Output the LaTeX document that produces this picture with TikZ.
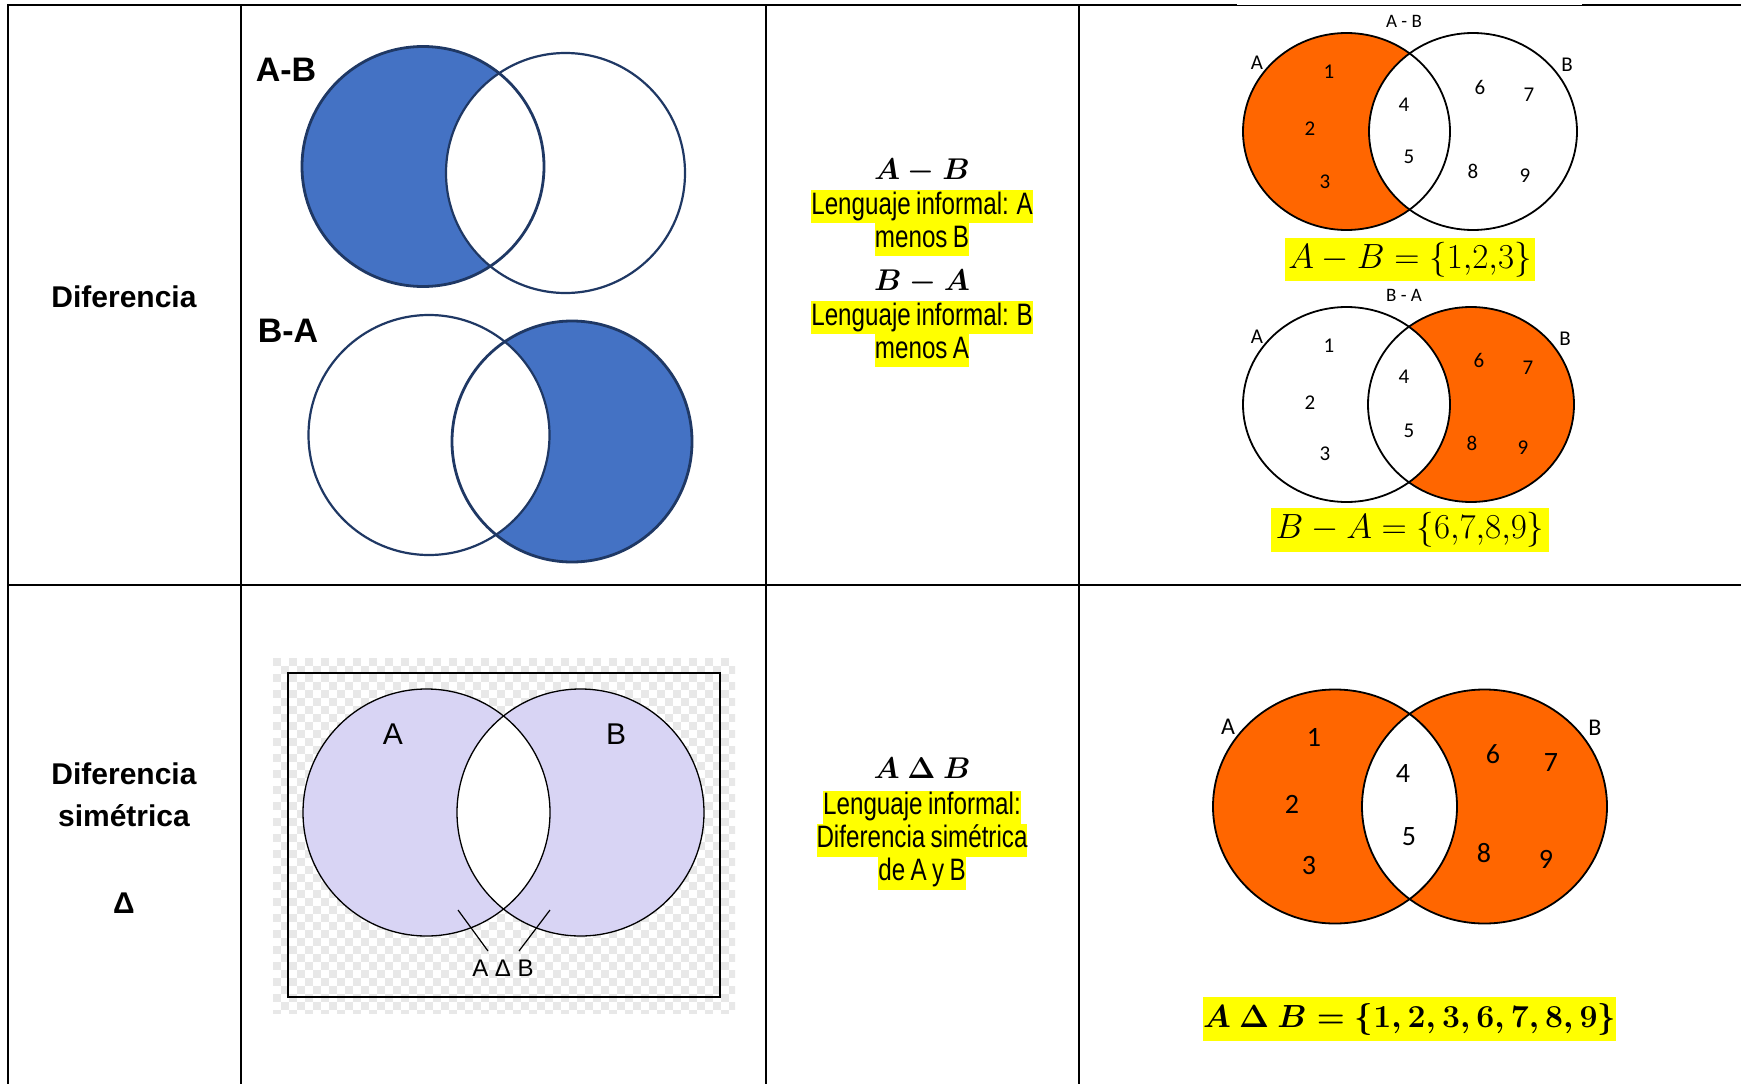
\RequirePackage{fix-cm}
\documentclass[tikz,border=0pt]{standalone}
\usepackage[no-math]{fontspec}
\setmainfont{Liberation Sans}
\newfontfamily\narrowf[FakeStretch=0.78,WordSpace=0.8]{Liberation Sans}
\newfontfamily\calib{Carlito}
\definecolor{blueF}{HTML}{4472C4}
\definecolor{navyL}{HTML}{1F3864}
\definecolor{orangeF}{HTML}{FF6600}
\definecolor{lavF}{HTML}{D8D4F4}
\definecolor{hiY}{HTML}{FFFF00}
\definecolor{chk}{HTML}{E8E8E8}
\begin{document}
\begin{tikzpicture}[x=1pt,y=-1pt,
  tabline/.style={line width=2pt,black},
  rowlab/.style={font=\fontsize{30}{36}\selectfont\bfseries,anchor=base,inner sep=0pt},
  venlab/.style={font=\fontsize{34}{40}\selectfont\bfseries,anchor=base,inner sep=0pt},
  mathlab/.style={font=\fontsize{30}{36}\selectfont\boldmath,anchor=base,inner sep=0pt},
  hiline/.style={font=\fontsize{31}{33}\selectfont\narrowf,fill=hiY,anchor=base,inner xsep=0pt,inner ysep=0pt,text height=24pt,text depth=9pt},
  navyE/.style={draw=navyL,line width=2.2pt},
  orE/.style={draw=black,line width=1.8pt},
  dsmall/.style={font=\fontsize{21}{24}\selectfont\calib,inner sep=0pt},
  dbig/.style={font=\fontsize{28}{32}\selectfont\calib,inner sep=0pt},
  setbox/.style={fill=hiY,inner sep=0pt,font=\fontsize{35}{40}\selectfont},
]
\useasboundingbox (0,0) rectangle (1741,1084);
\fill[white] (0,0) rectangle (1741,1084);

% ---------- column 2, top: A-B ----------
\fill[blueF] (423,166.5) ellipse[x radius=121pt,y radius=120pt];
\fill[white] (565.5,173) ellipse[x radius=119.5pt,y radius=120pt];
\draw[navyE,line width=2.8pt] (423,166.5) ellipse[x radius=121pt,y radius=120pt];
\draw[navyE] (565.5,173) ellipse[x radius=119.5pt,y radius=120pt];
\node[venlab] (labAB) at (286,81) {A-B};

% ---------- column 2, middle: B-A ----------
\fill[blueF] (572,441.5) ellipse[x radius=120pt,y radius=120.5pt];
\fill[white] (429,435) ellipse[x radius=120.5pt,y radius=120pt];
\draw[navyE,line width=2.8pt] (572,441.5) ellipse[x radius=120pt,y radius=120.5pt];
\draw[navyE] (429,435) ellipse[x radius=120.5pt,y radius=120pt];
\node[venlab] (labBA) at (288,342) {B-A};

% ---------- column 2, bottom: symmetric difference ----------
\begin{scope}
  \clip (273,658) rectangle (735,1013);
  \foreach \j in {0,2,...,44} \foreach \i in {0,2,...,58}
    \fill[chk] (273+8*\i,658+8*\j) rectangle ++(8,8);
  \foreach \j in {1,3,...,45} \foreach \i in {1,3,...,57}
    \fill[chk] (273+8*\i,658+8*\j) rectangle ++(8,8);
\end{scope}
\draw[black,line width=1.5pt] (288,673) rectangle (720,997);
\fill[lavF] (426.5,812.5) circle[radius=123.5pt];
\fill[lavF] (580.5,812.5) circle[radius=123.5pt];
\begin{scope}
  \clip (426.5,812.5) circle[radius=123.5pt];
  \fill[white] (580.5,812.5) circle[radius=123.5pt];
\end{scope}
\draw[black,line width=1.3pt] (426.5,812.5) circle[radius=123.5pt];
\draw[black,line width=1.3pt] (580.5,812.5) circle[radius=123.5pt];
\node[font=\fontsize{30}{34}\selectfont,inner sep=0pt] (sdA) at (393,734) {A};
\node[font=\fontsize{30}{34}\selectfont,inner sep=0pt] (sdB) at (616,734) {B};
\node[font=\fontsize{24}{28}\selectfont,inner sep=0pt] (sdlab) at (503,968) {A Δ B};
\coordinate (sdp1) at (458,910);
\coordinate (sdq1) at (488,951);
\coordinate (sdp2) at (550,910);
\coordinate (sdq2) at (519,951);
\draw[black,line width=1.2pt] (sdp1) -- (sdq1);
\draw[black,line width=1.2pt] (sdp2) -- (sdq2);

% ---------- column 4, top: A-B ----------
\fill[orangeF] (1346.5,131.5) ellipse[x radius=103.5pt,y radius=98.5pt];
\fill[white] (1473,131.5) ellipse[x radius=104pt,y radius=98.5pt];
\draw[orE] (1346.5,131.5) ellipse[x radius=103.5pt,y radius=98.5pt];
\draw[orE] (1473,131.5) ellipse[x radius=104pt,y radius=98.5pt];
\node[dsmall,font=\fontsize{19}{22}\selectfont\calib] (t1lab) at (1404,21) {A - B};
\node[dsmall] (t1A) at (1257,63) {A};
\node[dsmall] (t1B) at (1567,65) {B};
\node[dsmall] (t1n1) at (1329,72) {1};
\node[dsmall] (t1n2) at (1310,129) {2};
\node[dsmall] (t1n3) at (1325,182) {3};
\node[dsmall] (t1n4) at (1404,105) {4};
\node[dsmall] (t1n5) at (1409,157) {5};
\node[dsmall] (t1n6) at (1480,87) {6};
\node[dsmall] (t1n7) at (1529,95) {7};
\node[dsmall] (t1n8) at (1473,171) {8};
\node[dsmall] (t1n9) at (1525,176) {9};
\node[setbox,minimum width=250pt,minimum height=43pt] (setAB) at (1410,259.5) {$A-B=\{1{,}2{,}3\}$};

% ---------- column 4, middle: B-A ----------
\fill[orangeF] (1471,404.5) ellipse[x radius=103pt,y radius=97.5pt];
\fill[white] (1346.5,404.5) ellipse[x radius=103.5pt,y radius=97.5pt];
\draw[orE] (1346.5,404.5) ellipse[x radius=103.5pt,y radius=97.5pt];
\draw[orE] (1471,404.5) ellipse[x radius=103pt,y radius=97.5pt];
\node[dsmall,font=\fontsize{19}{22}\selectfont\calib] (t2lab) at (1404,295) {B - A};
\node[dsmall] (t2A) at (1257,337) {A};
\node[dsmall] (t2B) at (1565,339) {B};
\node[dsmall] (t2n1) at (1329,346) {1};
\node[dsmall] (t2n2) at (1310,403) {2};
\node[dsmall] (t2n3) at (1325,454) {3};
\node[dsmall] (t2n4) at (1404,377) {4};
\node[dsmall] (t2n5) at (1409,431) {5};
\node[dsmall] (t2n6) at (1479,360) {6};
\node[dsmall] (t2n7) at (1528,368) {7};
\node[dsmall] (t2n8) at (1472,443) {8};
\node[dsmall] (t2n9) at (1523,448) {9};
\node[setbox,minimum width=278pt,minimum height=44pt] (setBA) at (1410,530) {$B-A=\{6{,}7{,}8{,}9\}$};

% ---------- column 4, bottom: symmetric difference ----------
\fill[orangeF] (1335,806.5) ellipse[x radius=122pt,y radius=117pt];
\fill[orangeF] (1484.5,806.5) ellipse[x radius=122.5pt,y radius=117pt];
\begin{scope}
  \clip (1335,806.5) ellipse[x radius=122pt,y radius=117pt];
  \fill[white] (1484.5,806.5) ellipse[x radius=122.5pt,y radius=117pt];
\end{scope}
\draw[orE] (1335,806.5) ellipse[x radius=122pt,y radius=117pt];
\draw[orE] (1484.5,806.5) ellipse[x radius=122.5pt,y radius=117pt];
\node[dbig,font=\fontsize{24}{28}\selectfont\calib] (t3A) at (1228,727) {A};
\node[dbig,font=\fontsize{24}{28}\selectfont\calib] (t3B) at (1595,728) {B};
\node[dbig] (t3n1) at (1314,737) {1};
\node[dbig] (t3n2) at (1292,804) {2};
\node[dbig] (t3n3) at (1309,866) {3};
\node[dbig] (t3n4) at (1403,774) {4};
\node[dbig] (t3n5) at (1409,837) {5};
\node[dbig] (t3n6) at (1493,754) {6};
\node[dbig] (t3n7) at (1551,763) {7};
\node[dbig] (t3n8) at (1484,853) {8};
\node[dbig] (t3n9) at (1546,859) {9};
\node[setbox,font=\fontsize{32}{38}\selectfont\boldmath,minimum width=407pt,minimum height=44pt] (setSD) at (1409.5,1019) {$A\mathbin{\Delta}B=\{1,2,3,6,7,8,9\}$};

% ---------- column 3 ----------
\node[mathlab] (mAB) at (922,179) {$A-B$};
\node[hiline] (h1) at (922,214) {Lenguaje informal: A};
\node[hiline] (h2) at (922,247) {menos B};
\node[mathlab] (mBA) at (922,290) {$B-A$};
\node[hiline] (h3) at (922,325) {Lenguaje informal: B};
\node[hiline] (h4) at (922,358) {menos A};
\node[mathlab] (mSD) at (922,778) {$A\mathbin{\Delta}B$};
\node[hiline] (h5) at (922,814.5) {Lenguaje informal:};
\node[hiline] (h6) at (922,847.5) {Diferencia simétrica};
\node[hiline] (h7) at (922,880.5) {de A y B};

% ---------- column 1 ----------
\node[rowlab] (r1) at (124,307) {Diferencia};
\node[rowlab] (r2a) at (124,784) {Diferencia};
\node[rowlab] (r2b) at (124,826) {simétrica};
\node[rowlab] (r2c) at (124,913) {Δ};

% ---------- table grid ----------
\draw[tabline] (8,5) -- (1237,5);
\draw[line width=1pt] (1237,5) -- (1582,5);
\draw[tabline] (1582,5) -- (1741,5);
\draw[tabline] (8,585) -- (1741,585);
\foreach \xx in {8,241,766,1079}
  \draw[tabline] (\xx,4) -- (\xx,1084);
\end{tikzpicture}
\end{document}
